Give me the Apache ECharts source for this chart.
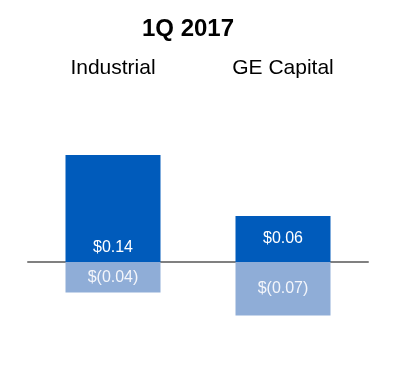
<!DOCTYPE html>
<html>
<head>
<meta charset="utf-8">
<script src="https://cdn.jsdelivr.net/npm/echarts@6/dist/echarts.min.js"></script>
<style>
  html, body { margin: 0; padding: 0; background: #fff; }
  #chart { width: 400px; height: 379px; }
</style>
</head>
<body>
<div id="chart"></div>
<script>
const categories = ["Industrial", "GE Capital"];
const positiveValues = [0.14, 0.06];
const negativeValues = [-0.04, -0.07];
// where each positive label sits inside its bar
const positiveLabelPos = ["insideBottom", "inside"];

function money(v) {
  const s = Math.abs(v).toFixed(2);
  return v < 0 ? "$(" + s + ")" : "$" + s;
}

const chart = echarts.init(document.getElementById("chart"));

chart.setOption({
  animation: false,
  textStyle: { fontFamily: "Liberation Sans, Arial, sans-serif" },
  title: {
    text: "1Q 2017",
    left: 183,
    top: 12,
    textAlign: "center",
    textStyle: { fontSize: 24, fontWeight: "bold", color: "#000", fontFamily: "Liberation Sans, Arial, sans-serif" }
  },
  grid: { left: 28, width: 340, top: 109, height: 229.5 },
  xAxis: [
    {
      type: "category",
      data: categories,
      position: "bottom",
      axisLine: { onZero: true, lineStyle: { color: "#808080", width: 2 } },
      axisTick: { show: false },
      axisLabel: { show: false }
    },
    {
      type: "category",
      data: categories,
      position: "top",
      axisLine: { show: false },
      axisTick: { show: false },
      axisLabel: { color: "#000", fontSize: 21, margin: 30 }
    }
  ],
  yAxis: {
    type: "value",
    min: -0.1,
    max: 0.2,
    show: false,
    splitLine: { show: false }
  },
  series: [
    {
      type: "bar",
      stack: "eps",
      data: positiveValues.map((v, i) => ({
        value: v,
        label: { position: positiveLabelPos[i] }
      })),
      barWidth: 95,
      itemStyle: { color: "#005BBB" },
      label: {
        show: true,
        position: "insideBottom",
        distance: 6,
        color: "#fff",
        fontSize: 16,
        formatter: (p) => money(p.value)
      }
    },
    {
      type: "bar",
      stack: "eps",
      data: negativeValues,
      barWidth: 95,
      itemStyle: { color: "#8FADD7" },
      label: {
        show: true,
        position: "inside",
        color: "#f4f6fb",
        fontSize: 16,
        formatter: (p) => money(p.value)
      }
    }
  ]
});
</script>
</body>
</html>
